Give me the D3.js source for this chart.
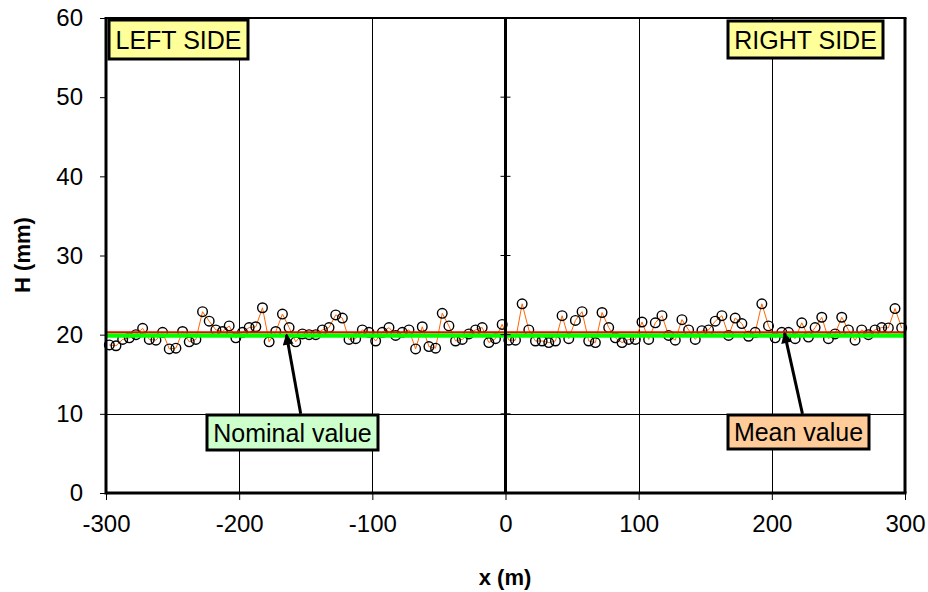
<!DOCTYPE html>
<html>
<head>
<meta charset="utf-8">
<script src="https://cdnjs.cloudflare.com/ajax/libs/d3/7.8.5/d3.min.js"></script>
<style>
  body { margin: 0; background: #fff; }
  svg { display: block; font-family: "Liberation Sans", Arial, sans-serif; }
</style>
</head>
<body>
<svg id="chart" width="928" height="592"></svg>
<script>
// Measuring stations (m) on each side of the centre
const leftStations = [
  -297.5, -292.5, -287.5, -282.5, -277.5, -272.5, -267.5, -262.5, -257.5, -252.5,
  -247.5, -242.5, -237.5, -232.5, -227.5, -222.5, -217.5, -212.5, -207.5, -202.5,
  -197.5, -192.5, -187.5, -182.5, -177.5, -172.5, -167.5, -162.5, -157.5, -152.5,
  -147.5, -142.5, -137.5, -132.5, -127.5, -122.5, -117.5, -112.5, -107.5, -102.5,
  -97.5, -92.5, -87.5, -82.5, -77.5, -72.5, -67.5, -62.5, -57.5, -52.5,
  -47.5, -42.5, -37.5, -32.5, -27.5, -22.5, -17.5, -12.5, -7.5, -2.5
];
const rightStations = [
  2.5, 7.5, 12.5, 17.5, 22.5, 27.5, 32.5, 37.5, 42.5, 47.5,
  52.5, 57.5, 62.5, 67.5, 72.5, 77.5, 82.5, 87.5, 92.5, 97.5,
  102.5, 107.5, 112.5, 117.5, 122.5, 127.5, 132.5, 137.5, 142.5, 147.5,
  152.5, 157.5, 162.5, 167.5, 172.5, 177.5, 182.5, 187.5, 192.5, 197.5,
  202.5, 207.5, 212.5, 217.5, 222.5, 227.5, 232.5, 237.5, 242.5, 247.5,
  252.5, 257.5, 262.5, 267.5, 272.5, 277.5, 282.5, 287.5, 292.5, 297.5
];

// Measured H (mm)
const leftH = [
  18.7, 18.6, 19.4, 19.6, 20.0, 20.8, 19.4, 19.3, 20.3, 18.2,
  18.3, 20.4, 19.1, 19.4, 22.9, 21.7, 20.6, 20.4, 21.1, 19.6,
  20.3, 20.9, 21.0, 23.4, 19.1, 20.4, 22.6, 20.9, 19.1, 20.1,
  20.0, 20.0, 20.6, 20.9, 22.5, 22.1, 19.4, 19.5, 20.6, 20.3,
  19.2, 20.3, 20.9, 19.9, 20.3, 20.6, 18.2, 21.0, 18.5, 18.3,
  22.7, 21.1, 19.2, 19.4, 20.1, 20.6, 20.9, 19.0, 19.5, 21.3
];
const rightH = [
  19.3, 19.3, 23.9, 20.6, 19.2, 19.2, 19.0, 19.2, 22.4, 19.5,
  21.8, 22.9, 19.2, 19.0, 22.8, 20.9, 19.6, 19.0, 19.4, 19.4,
  21.6, 19.4, 21.5, 22.4, 19.9, 19.3, 21.9, 20.6, 19.4, 20.5,
  20.6, 21.7, 22.4, 19.9, 22.1, 21.4, 19.8, 20.3, 23.9, 21.1,
  19.6, 20.3, 20.3, 19.5, 21.5, 19.7, 20.9, 22.2, 19.5, 20.1,
  22.2, 20.6, 19.3, 20.6, 20.0, 20.6, 20.9, 20.85, 23.3, 20.85
];

const nominalValue = 20;
const meanValue = 20.3;

const xTicks = [-300, -200, -100, 0, 100, 200, 300];
const yTicks = [0, 10, 20, 30, 40, 50, 60];
const xGrid = [-200, -100, 100, 200];
const yGrid = [10];

// ---------------------------------------------------------------
const svg = d3.select("#chart");
const plot = {left: 106, right: 905, top: 18, bottom: 493};

const x = d3.scaleLinear().domain([-300, 300]).range([plot.left, plot.right]);
const y = d3.scaleLinear().domain([0, 60]).range([plot.bottom, plot.top]);

let points = leftStations.map((s, i) => ({x: s, h: leftH[i]}))
  .concat(rightStations.map((s, i) => ({x: s, h: rightH[i]})));

// grid lines
svg.append("g").selectAll("line")
  .data(xGrid).join("line")
  .attr("x1", d => Math.round(x(d)) + 0.5).attr("x2", d => Math.round(x(d)) + 0.5)
  .attr("y1", plot.top).attr("y2", plot.bottom)
  .attr("stroke", "#000").attr("stroke-width", 1);
svg.append("g").selectAll("line")
  .data(yGrid).join("line")
  .attr("x1", plot.left).attr("x2", plot.right)
  .attr("y1", d => Math.round(y(d)) + 0.5).attr("y2", d => Math.round(y(d)) + 0.5)
  .attr("stroke", "#000").attr("stroke-width", 1);

// measured series
svg.append("path")
  .datum(points)
  .attr("fill", "none")
  .attr("stroke", "#FF6600")
  .attr("stroke-width", 1)
  .attr("d", d3.line().x(d => x(d.x)).y(d => y(d.h)));

svg.append("g").selectAll("circle")
  .data(points).join("circle")
  .attr("cx", d => x(d.x)).attr("cy", d => y(d.h))
  .attr("r", 4.8)
  .attr("fill", "none")
  .attr("stroke", "#000")
  .attr("stroke-width", 1.4);

// mean and nominal lines
svg.append("line")
  .attr("x1", x(-300)).attr("x2", x(300))
  .attr("y1", y(meanValue)).attr("y2", y(meanValue))
  .attr("stroke", "#FF0000").attr("stroke-width", 2);
svg.append("line")
  .attr("x1", x(-300)).attr("x2", x(300))
  .attr("y1", y(nominalValue) + 0.8).attr("y2", y(nominalValue) + 0.8)
  .attr("stroke", "#00FF00").attr("stroke-width", 4.5);

// axes (ticks + labels)
let yAxis = d3.axisLeft(y).tickValues(yTicks).tickSize(6).tickPadding(17)
  .tickFormat(d => String(d));
svg.append("g")
  .attr("transform", `translate(${plot.left},0)`)
  .call(yAxis)
  .call(g => g.select(".domain").remove())
  .call(g => g.selectAll("text").attr("font-size", 24).attr("fill", "#000")
    .attr("font-family", '"Liberation Sans", Arial, sans-serif'));

let xAxis = d3.axisBottom(x).tickValues(xTicks).tickSize(7).tickPadding(15)
  .tickFormat(d => String(d));
svg.append("g")
  .attr("transform", `translate(0,${plot.bottom})`)
  .call(xAxis)
  .call(g => g.select(".domain").remove())
  .call(g => g.selectAll("text").attr("font-size", 24).attr("fill", "#000")
    .attr("font-family", '"Liberation Sans", Arial, sans-serif'));

// ticks on the centre line
svg.append("g").selectAll("line")
  .data(yTicks.slice(1, -1)).join("line")
  .attr("x1", x(0) - 5).attr("x2", x(0) + 5)
  .attr("y1", d => y(d)).attr("y2", d => y(d))
  .attr("stroke", "#000").attr("stroke-width", 1);

// frame
const frame = svg.append("g").attr("stroke", "#000").attr("fill", "none");
frame.append("line").attr("x1", plot.left).attr("x2", plot.right + 1.5)
  .attr("y1", plot.top).attr("y2", plot.top).attr("stroke-width", 2);
frame.append("line").attr("x1", plot.right).attr("x2", plot.right)
  .attr("y1", plot.top).attr("y2", plot.bottom).attr("stroke-width", 3);
frame.append("line").attr("x1", plot.left).attr("x2", plot.left)
  .attr("y1", plot.top - 1).attr("y2", plot.bottom + 1.5).attr("stroke-width", 3);
frame.append("line").attr("x1", plot.left).attr("x2", plot.right + 1.5)
  .attr("y1", plot.bottom).attr("y2", plot.bottom).attr("stroke-width", 3);
frame.append("line").attr("x1", x(0)).attr("x2", x(0))
  .attr("y1", plot.top).attr("y2", plot.bottom).attr("stroke-width", 3);

// axis titles
svg.append("text")
  .attr("x", 505).attr("y", 585)
  .attr("text-anchor", "middle")
  .attr("font-size", 22).attr("font-weight", "bold")
  .text("x (m)");
svg.append("text")
  .attr("transform", "translate(30,255) rotate(-90)")
  .attr("text-anchor", "middle")
  .attr("font-size", 22).attr("font-weight", "bold")
  .text("H (mm)");

// arrows
svg.append("defs").append("marker")
  .attr("id", "head")
  .attr("viewBox", "0 0 10 10")
  .attr("refX", 9).attr("refY", 5)
  .attr("markerWidth", 14).attr("markerHeight", 11)
  .attr("markerUnits", "userSpaceOnUse")
  .attr("orient", "auto")
  .append("path").attr("d", "M0,0 L10,5 L0,10 Z").attr("fill", "#000");

const arrows = [
  {x1: -153.8, y1: 10, x2: -164.5, y2: 20},
  {x1: 223, y1: 10, x2: 209.5, y2: 20.2}
];
svg.append("g").selectAll("line")
  .data(arrows).join("line")
  .attr("x1", d => x(d.x1)).attr("y1", d => y(d.y1))
  .attr("x2", d => x(d.x2)).attr("y2", d => y(d.y2))
  .attr("stroke", "#000").attr("stroke-width", 3)
  .attr("marker-end", "url(#head)");

// label boxes
const boxes = [
  {text: "LEFT SIDE", x: 109, y: 20, w: 139, h: 39, fill: "#FFFF99"},
  {text: "RIGHT SIDE", x: 728, y: 21, w: 155, h: 37, fill: "#FFFF99"},
  {text: "Nominal value", x: 207, y: 415, w: 171, h: 35, fill: "#CCFFCC"},
  {text: "Mean value", x: 728, y: 415, w: 141, h: 34, fill: "#FFCC99"}
];
const box = svg.append("g").selectAll("g")
  .data(boxes).join("g");
box.append("rect")
  .attr("x", d => d.x).attr("y", d => d.y)
  .attr("width", d => d.w).attr("height", d => d.h)
  .attr("fill", d => d.fill)
  .attr("stroke", "#000").attr("stroke-width", 3);
box.append("text")
  .attr("x", d => d.x + d.w / 2).attr("y", d => d.y + d.h / 2 + 9)
  .attr("text-anchor", "middle")
  .attr("font-size", 25)
  .text(d => d.text);
</script>
</body>
</html>
